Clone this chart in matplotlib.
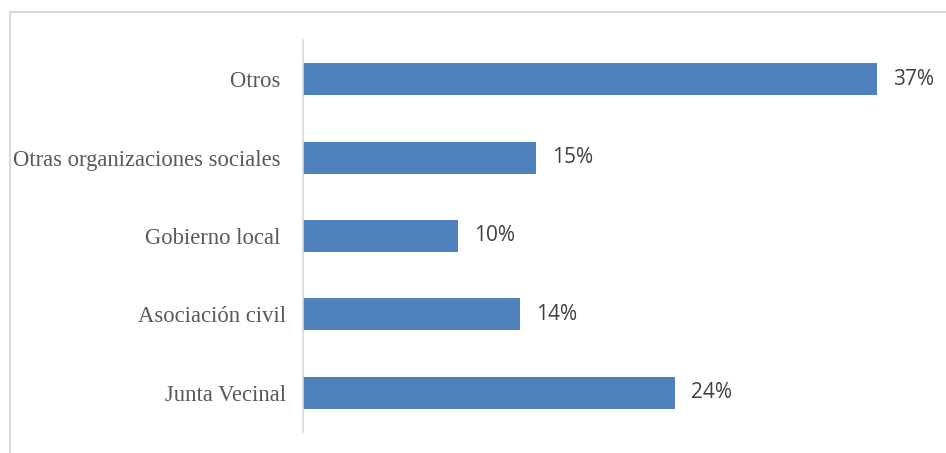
import matplotlib.pyplot as plt
from matplotlib.lines import Line2D

categories = ['Junta Vecinal', 'Asociación civil', 'Gobierno local ', 'Otras organizaciones sociales ', 'Otros ']
values = [24, 14, 10, 15, 37]

W, H = 946, 453
fig = plt.figure(figsize=(W / 100, H / 100), dpi=100)
ax = fig.add_axes([303 / W, 1 - 432 / H, (923 - 303) / W, (432 - 40) / H])

bars = ax.barh(range(len(categories)), values, height=0.41, color='#4F81BD')
ax.set_xlim(0, 40)
ax.set_ylim(-0.5, len(categories) - 0.5)

ax.set_yticks(range(len(categories)))
ax.set_yticklabels(categories, family='Liberation Serif', fontsize=16.3, color='#595959')
ax.tick_params(axis='y', length=0, pad=12)
ax.set_xticks([])

for s in ['top', 'right', 'bottom']:
    ax.spines[s].set_visible(False)
ax.spines['left'].set_color('#D9D9D9')
ax.spines['left'].set_linewidth(1.2)

for b, v in zip(bars, values):
    ax.text(b.get_width() + 1.05, b.get_y() + b.get_height() / 2, f'{v}%',
            va='center', ha='left', family='Open Sans', fontsize=15, color='#404040')

# chart frame (cropped on right and bottom)
fig.add_artist(Line2D([9.5 / W, 1], [1 - 11.5 / H, 1 - 11.5 / H], color='#D9D9D9', lw=1.5))
fig.add_artist(Line2D([9.5 / W, 9.5 / W], [0, 1 - 11.5 / H], color='#D9D9D9', lw=1.5))

fig.savefig('out.png', dpi=100)
